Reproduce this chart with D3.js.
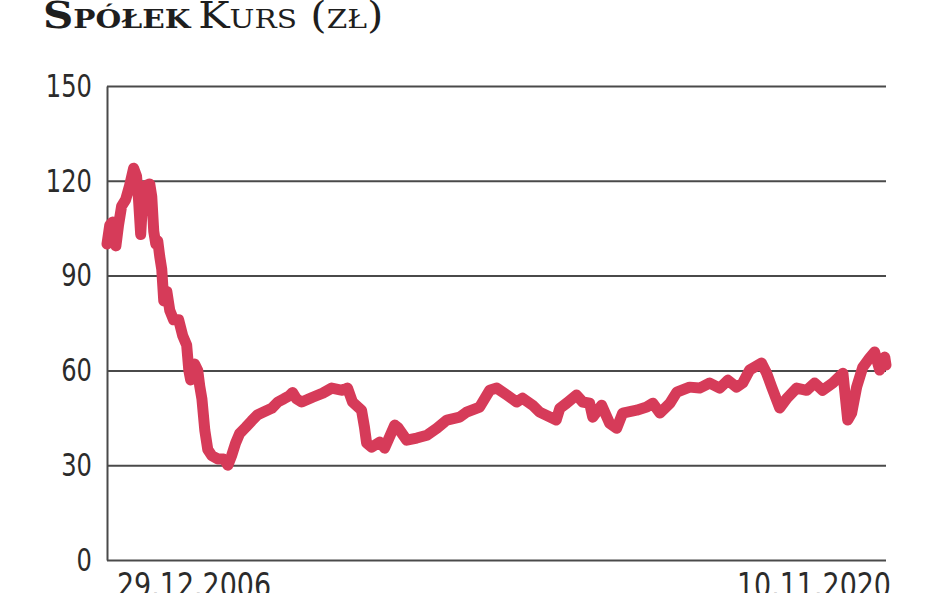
<!DOCTYPE html>
<html>
<head>
<meta charset="utf-8">
<script src="https://cdn.jsdelivr.net/npm/d3@7/dist/d3.min.js"></script>
<style>
  html, body { margin: 0; padding: 0; background: #fff; }
  svg { display: block; }
</style>
</head>
<body>
<svg id="chart" width="948" height="593"></svg>
<script>
// ---- Data ----
const titleBold = "Spółek";
const titleRegular = "Kurs (zł)";
const yTicks = [0, 30, 60, 90, 120, 150];
const xLabels = ["29.12.2006", "10.11.2020"];
const dates = [
  "2006-12-29","2007-01-16","2007-02-05","2007-02-25","2007-03-14","2007-04-03","2007-04-29","2007-05-25",
  "2007-06-20","2007-07-09","2007-07-22","2007-08-05","2007-08-18","2007-09-07","2007-10-03","2007-10-16",
  "2007-10-29","2007-11-11","2007-11-24","2007-12-07","2007-12-20","2008-01-02","2008-01-22","2008-02-10",
  "2008-03-06","2008-04-08","2008-05-04","2008-05-30","2008-06-13","2008-06-25","2008-07-21","2008-08-10",
  "2008-08-23","2008-09-06","2008-09-25","2008-10-14","2008-11-10","2008-12-18","2009-01-27","2009-02-22",
  "2009-03-18","2009-04-13","2009-05-09","2009-06-18","2009-07-26","2009-09-04","2009-10-19","2009-12-04",
  "2010-01-13","2010-02-21","2010-03-29","2010-04-19","2010-05-14","2010-06-17","2010-08-27","2010-11-01",
  "2010-12-29","2011-03-09","2011-04-11","2011-05-13","2011-07-11","2011-07-30","2011-08-13","2011-09-15",
  "2011-11-06","2011-12-08","2012-02-12","2012-03-02","2012-04-30","2012-07-04","2012-09-08","2012-11-12",
  "2013-01-16","2013-04-09","2013-05-24","2013-08-17","2013-10-21","2013-12-06","2014-02-10","2014-04-14",
  "2014-05-23","2014-07-27","2014-09-11","2014-12-28","2015-01-20","2015-03-05","2015-05-09","2015-06-18",
  "2015-08-02","2015-08-22","2015-10-19","2015-12-10","2016-01-25","2016-03-04","2016-06-03","2016-08-07",
  "2016-09-16","2016-11-01","2017-01-05","2017-02-19","2017-05-13","2017-07-17","2017-09-21","2017-11-25",
  "2018-01-17","2018-03-14","2018-04-23","2018-06-07","2018-08-24","2018-09-26","2018-10-29","2018-12-20",
  "2019-02-05","2019-04-09","2019-06-13","2019-08-04","2019-09-25","2019-11-30","2020-02-04","2020-03-06",
  "2020-04-01","2020-05-03","2020-06-12","2020-07-26","2020-08-28","2020-09-30","2020-11-02","2020-11-10"
];
const prices = [
  100, 106, 107, 99.4, 106, 112, 114, 118.5,
  124, 121.5, 114, 103, 114, 118.5, 119, 115,
  104, 100, 101, 96, 92, 82, 85, 79,
  76, 76, 71, 68, 60, 57, 62, 60,
  55, 51, 41, 35, 33, 32, 32, 30,
  33, 37, 40, 42, 44, 46, 47, 48,
  50, 51, 52, 53, 51, 50, 51.5, 52.8,
  54.4, 53.7, 54.4, 50, 47.4, 42, 37, 35.7,
  37.3, 35.4, 42.7, 42, 37.9, 38.6, 39.5, 41.7,
  44.3, 45.2, 46.8, 48.4, 53.7, 54.4, 52.2, 50,
  51.2, 49, 46.8, 44.3, 48, 49.6, 52.2, 50,
  49.6, 45.2, 49, 43.3, 41.7, 46.5, 47.4, 48.4,
  49.6, 46.5, 49.6, 53.1, 54.7, 54.4, 56, 54.4,
  56.9, 54.7, 56, 60.1, 62.3, 59.1, 54.7, 48.1,
  51.2, 54.4, 53.7, 56, 53.7, 56, 59.1, 44.3,
  46.5, 54.7, 61, 63.9, 65.8, 60.1, 64.2, 61.7
];

// ---- Chart ----
const W = 948, H = 593;
const m = { left: 107, right: 948 - 886, top: 86, bottom: 593 - 560 };
const svg = d3.select("#chart");
const parse = d3.timeParse("%Y-%m-%d");
const data = dates.map((d, i) => ({ date: parse(d), value: prices[i] }));

const x = d3.scaleTime()
  .domain([parse(dates[0]), parse(dates[dates.length - 1])])
  .range([m.left, W - m.right]);
const y = d3.scaleLinear().domain([0, 150]).range([H - m.bottom, m.top]);

const textColor = "#2b2b2b";
const gridColor = "#4a4a4a";
const labelFont = "'DejaVu Sans Condensed', 'DejaVu Sans', sans-serif";

// Title (slab-serif small caps, stretched horizontally)
const title = svg.append("text")
  .attr("transform", "translate(43,28) scale(1.12,1)")
  .attr("fill", "#1e1e1e")
  .style("font-family", "'DejaVu Serif', serif")
  .style("font-variant", "small-caps")
  .style("font-size", "37.5px");
title.append("tspan").style("font-weight", "bold").text(titleBold);
title.append("tspan").attr("dx", 7).style("font-weight", "normal").text(titleRegular);

// Y axis with gridlines
const yAxis = d3.axisLeft(y)
  .tickValues(yTicks)
  .tickSize(-(W - m.right - m.left))
  .tickSizeOuter(0)
  .tickPadding(0)
  .tickFormat(d3.format("d"));
const gy = svg.append("g")
  .attr("transform", `translate(${m.left},0)`)
  .call(yAxis);
gy.selectAll(".tick line").attr("stroke", gridColor).attr("stroke-width", 2);
gy.select(".domain").attr("stroke", gridColor).attr("stroke-width", 2);
gy.selectAll(".tick text")
  .attr("x", null)
  .attr("transform", "translate(-15,0) scale(0.84,1)")
  .attr("fill", textColor)
  .style("font-family", labelFont)
  .style("font-size", "32px");

// X labels (start / end dates)
const xg = svg.append("g");
xg.append("text")
  .attr("transform", `translate(${x(parse(dates[0])) + 10},597) scale(0.88,1)`)
  .attr("text-anchor", "start")
  .attr("fill", textColor)
  .style("font-family", labelFont)
  .style("font-size", "34px")
  .text(xLabels[0]);
xg.append("text")
  .attr("transform", `translate(${x(parse(dates[dates.length - 1])) + 5},597) scale(0.88,1)`)
  .attr("text-anchor", "end")
  .attr("fill", textColor)
  .style("font-family", labelFont)
  .style("font-size", "34px")
  .text(xLabels[1]);

// Price line
const line = d3.line().x(d => x(d.date)).y(d => y(d.value)).curve(d3.curveLinear);
svg.append("path")
  .datum(data)
  .attr("d", line)
  .attr("fill", "none")
  .attr("stroke", "#d63b59")
  .attr("stroke-width", 11)
  .attr("stroke-linejoin", "round")
  .attr("stroke-linecap", "round");
</script>
</body>
</html>
